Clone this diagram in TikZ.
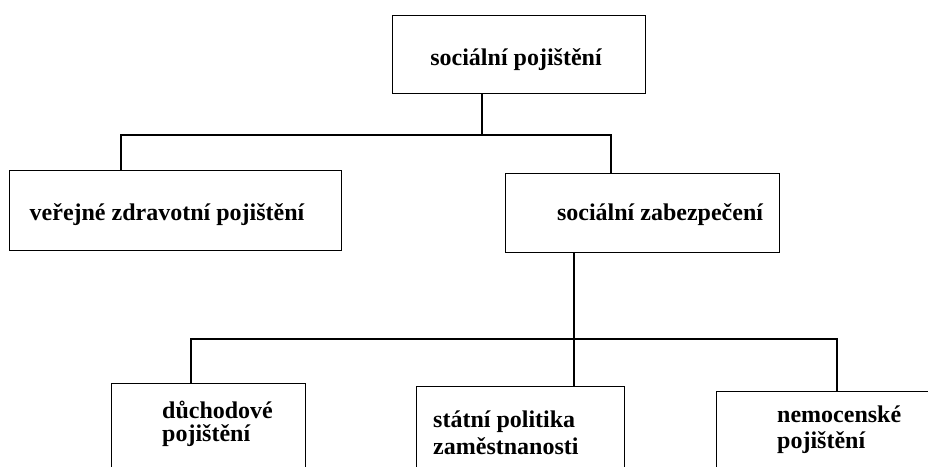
\documentclass[tikz,border=0pt]{standalone}
\usepackage{fontspec}
\setmainfont{Liberation Serif}
\begin{document}
\begin{tikzpicture}[x=1pt,y=-1pt,
  box/.style={draw, rectangle, line width=1.4pt, anchor=north west, inner sep=0pt},
  txt/.style={font=\bfseries\fontsize{24}{26}\selectfont, inner sep=0pt},
  link/.style={line width=1.4pt}]
\clip (0,0) rectangle (928,466);
\fill[white] (0,0) rectangle (928,466);
% boxes
\node[box, minimum width=253pt, minimum height=78pt] (top) at (392,15) {};
\node[box, minimum width=332pt, minimum height=80pt] (vz) at (9,170) {};
\node[box, minimum width=274pt, minimum height=79pt] (sz) at (505,173) {};
\node[box, minimum width=194pt, minimum height=120pt] (dp) at (111,383) {};
\node[box, minimum width=208pt, minimum height=120pt] (sp) at (416,386) {};
\node[box, minimum width=260pt, minimum height=120pt] (np) at (716,391) {};
% texts
\node[txt, anchor=base] (ttop) at (516,65) {sociální pojištění};
\node[txt, anchor=base] (tvz) at (167,220) {veřejné zdravotní pojištění};
\node[txt, anchor=base] (tsz) at (660,220) {sociální zabezpečení};
\node[txt, font=\bfseries\fontsize{24}{23}\selectfont, anchor=base west, align=left] (tdp) at (162,441) {důchodové\\pojištění};
\node[txt, font=\bfseries\fontsize{24}{27}\selectfont, anchor=base west, align=left] (tsp) at (433,454) {státní politika\\zaměstnanosti};
\node[txt, font=\bfseries\fontsize{24}{26}\selectfont, anchor=base west, align=left] (tnp) at (777,448) {nemocenské\\pojištění};
% connectors
\coordinate (b1) at (482,135);
\coordinate (l1) at (121,135);
\coordinate (r1) at (611,135);
\draw[link] (top.south -| b1) -- (b1);
\draw[link] (l1 |- vz.north) -- (l1) -- (r1) -- (r1 |- sz.north);
\coordinate (b2) at (574,339);
\coordinate (l2) at (191,339);
\coordinate (r2) at (837,339);
\draw[link] (sz.south -| b2) -- (b2 |- sp.north);
\draw[link] (l2 |- dp.north) -- (l2) -- (r2) -- (r2 |- np.north);
\end{tikzpicture}
\end{document}
